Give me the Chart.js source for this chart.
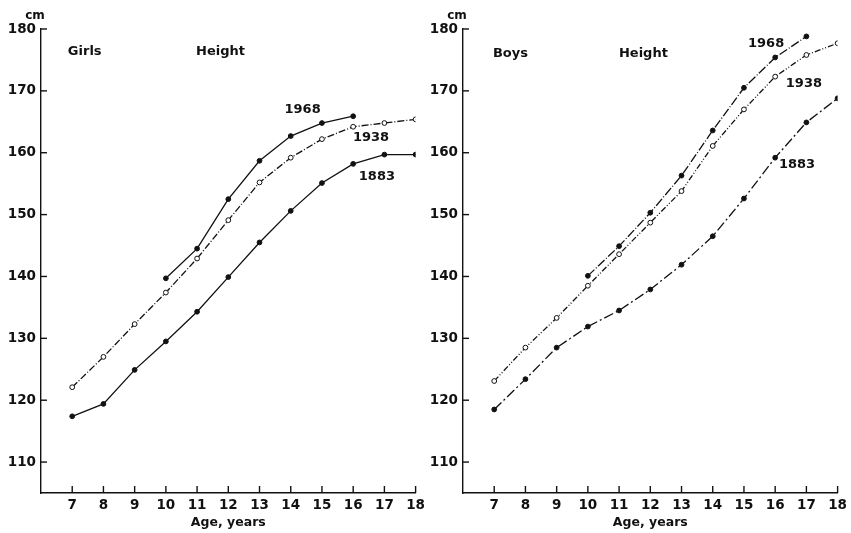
<!DOCTYPE html>
<html>
<head>
<meta charset="utf-8">
<script src="https://cdn.jsdelivr.net/npm/chart.js@4"></script>
<style>
  body { margin: 0; background: #fff; }
  .box { position: absolute; top: 0; height: 533px; }
  #girlsBox { left: 0; width: 429px; }
  #boysBox { left: 429px; width: 422px; }
</style>
</head>
<body>
<div class="box" id="girlsBox"><canvas id="girls"></canvas></div>
<div class="box" id="boysBox"><canvas id="boys"></canvas></div>
<script>
const ages = [7, 8, 9, 10, 11, 12, 13, 14, 15, 16, 17, 18];
const yTicks = [110, 120, 130, 140, 150, 160, 170, 180];

// girls, cm
const girls1968 = [null, null, null, 139.7, 144.5, 152.5, 158.7, 162.7, 164.8, 165.9, null, null];
const girls1938 = [122.1, 127.0, 132.3, 137.4, 142.9, 149.1, 155.2, 159.2, 162.2, 164.2, 164.8, 165.4];
const girls1883 = [117.4, 119.4, 124.9, 129.5, 134.3, 139.9, 145.5, 150.6, 155.1, 158.2, 159.7, 159.7];

// boys, cm
const boys1968 = [null, null, null, 140.1, 144.9, 150.3, 156.3, 163.6, 170.5, 175.4, 178.8, null];
const boys1938 = [123.1, 128.5, 133.3, 138.5, 143.6, 148.7, 153.8, 161.1, 167.0, 172.3, 175.8, 177.7];
const boys1883 = [118.5, 123.4, 128.5, 131.9, 134.5, 137.9, 141.9, 146.5, 152.6, 159.2, 164.9, 168.8];

const FONT = "'DejaVu Sans', sans-serif";

function pts(values) {
  return ages.map((a, i) => ({ x: a, y: values[i] }));
}

function series(label, values, open, dash) {
  return {
    label: label,
    data: pts(values),
    borderColor: '#111',
    borderWidth: 1.3,
    borderDash: dash,
    pointRadius: open ? 2.4 : 2.4,
    pointBorderWidth: 1,
    pointBackgroundColor: open ? '#fff' : '#111',
    pointBorderColor: '#111',
    tension: 0,
    spanGaps: false
  };
}

// inward ticks and text notes
const decor = {
  id: 'decor',
  afterDraw(chart, args, opts) {
    const ctx = chart.ctx;
    const xs = chart.scales.x, ys = chart.scales.y;
    const area = chart.chartArea;
    ctx.save();
    ctx.strokeStyle = '#111';
    ctx.lineWidth = 1.4;
    yTicks.forEach(v => {
      const y = ys.getPixelForValue(v);
      ctx.beginPath();
      ctx.moveTo(area.left, y);
      ctx.lineTo(area.left + 6, y);
      ctx.stroke();
    });
    ages.forEach(v => {
      const x = xs.getPixelForValue(v);
      ctx.beginPath();
      ctx.moveTo(x, area.bottom);
      ctx.lineTo(x, area.bottom - 7);
      ctx.stroke();
    });
    ctx.fillStyle = '#111';
    ctx.textAlign = 'center';
    ctx.textBaseline = 'middle';
    ctx.font = 'bold 12px ' + FONT;
    ctx.fillText('cm', area.left - 6, area.top - 13);
    ctx.font = 'bold 13px ' + FONT;
    opts.notes.forEach(n => {
      ctx.fillText(n.text, xs.getPixelForValue(n.x), ys.getPixelForValue(n.y));
    });
    ctx.restore();
  }
};

function makeChart(id, sets, notes, yWidth, padRight) {
  return new Chart(document.getElementById(id), {
    type: 'line',
    data: { datasets: sets },
    plugins: [decor],
    options: {
      responsive: true,
      maintainAspectRatio: false,
      animation: false,
      layout: { padding: { top: 29, right: padRight, left: 0, bottom: 0 } },
      plugins: {
        legend: { display: false },
        tooltip: { enabled: false },
        decor: { notes: notes }
      },
      scales: {
        x: {
          type: 'linear',
          min: 6,
          max: 18,
          afterBuildTicks: s => { s.ticks = ages.map(v => ({ value: v })); },
          afterFit: s => { s.height = 40; },
          grid: { display: false, drawTicks: false },
          border: { display: true, color: '#111', width: 1.4 },
          ticks: { color: '#111', padding: 4, maxRotation: 0, font: { family: FONT, size: 13.5, weight: 'bold' } },
          title: {
            display: true,
            text: 'Age, years',
            color: '#111',
            padding: { top: 0, bottom: 3 },
            font: { family: FONT, size: 12.5, weight: 'bold' }
          }
        },
        y: {
          type: 'linear',
          min: 105,
          max: 180,
          afterBuildTicks: s => { s.ticks = yTicks.map(v => ({ value: v })); },
          afterFit: s => { s.width = yWidth; },
          grid: { display: false, drawTicks: false },
          border: { display: true, color: '#111', width: 1.4 },
          ticks: { color: '#111', padding: 5, font: { family: FONT, size: 13.5, weight: 'bold' } }
        }
      }
    }
  });
}

makeChart('girls', [
  series('1968', girls1968, false, []),
  series('1938', girls1938, true, [7, 2, 1, 2]),
  series('1883', girls1883, false, [])
], [
  { text: 'Girls', x: 7.4, y: 176.3 },
  { text: 'Height', x: 11.75, y: 176.3 },
  { text: '1968', x: 14.38, y: 166.9 },
  { text: '1938', x: 16.57, y: 162.5 },
  { text: '1883', x: 16.76, y: 156.2 }
], 41, 10);

makeChart('boys', [
  series('1968', boys1968, false, [9, 2, 1, 2]),
  series('1938', boys1938, true, [6, 2, 1, 2, 1, 2]),
  series('1883', boys1883, false, [10, 3, 2, 3])
], [
  { text: 'Boys', x: 7.52, y: 176 },
  { text: 'Height', x: 11.78, y: 176 },
  { text: '1968', x: 15.71, y: 177.6 },
  { text: '1938', x: 16.92, y: 171.1 },
  { text: '1883', x: 16.7, y: 158.1 }
], 34, 9);
</script>
</body>
</html>
